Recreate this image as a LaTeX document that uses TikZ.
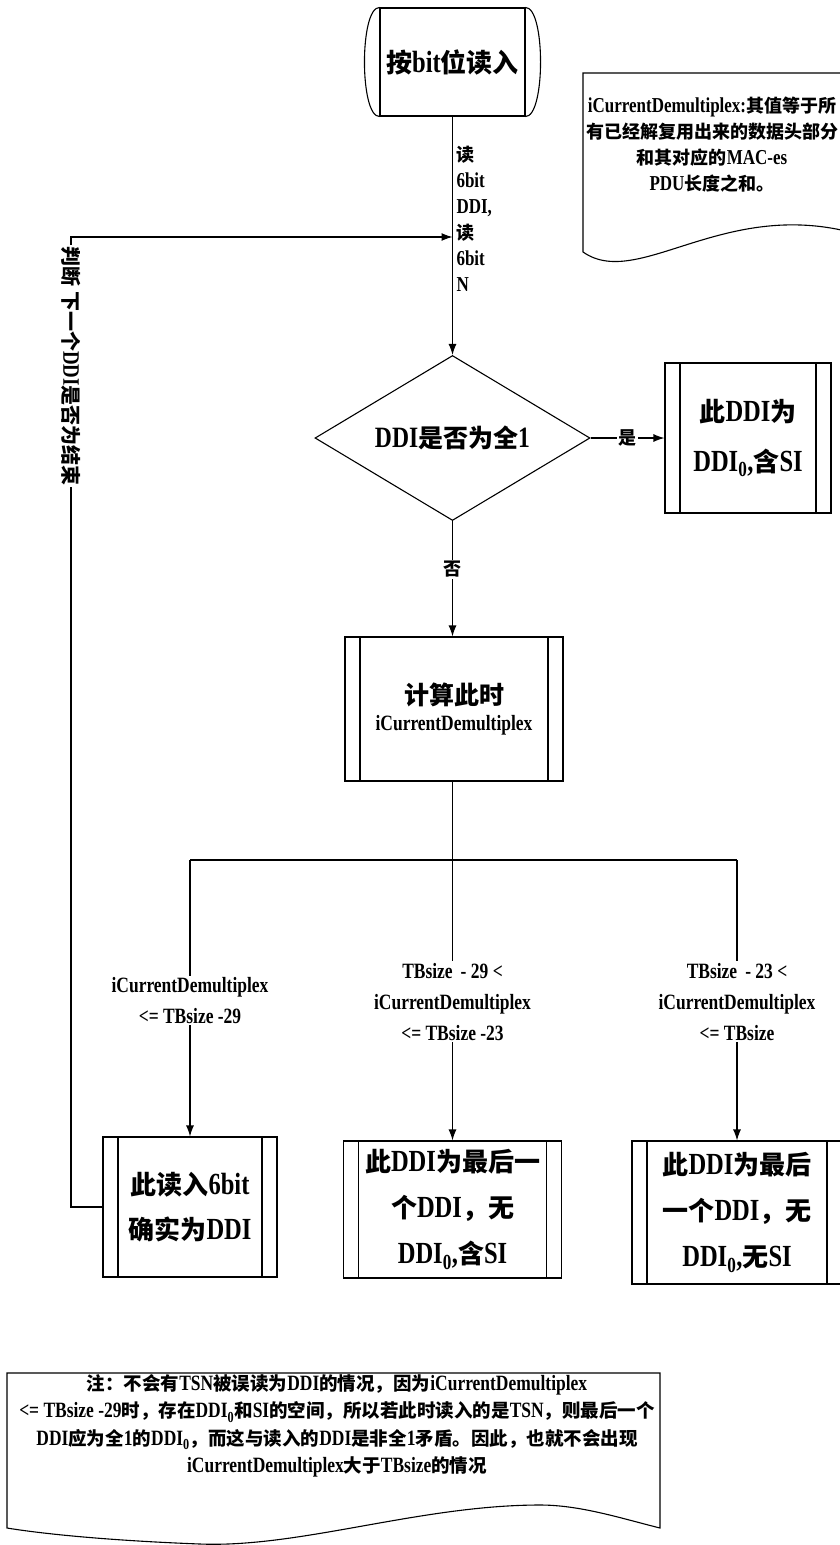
\documentclass[tikz,border=0pt]{standalone}
\usepackage{fontspec}
\setmainfont{Liberation Serif}[Scale=1.18,FakeStretch=0.8]
\newfontfamily\cjkf{Noto Sans CJK SC}
\XeTeXinterchartokenstate=1
\newXeTeXintercharclass\cjkclass
\newcount\cjkcnt
\cjkcnt="3000
\loop
  \XeTeXcharclass\cjkcnt=\cjkclass
  \ifnum\cjkcnt<"9FFF \advance\cjkcnt by 1
\repeat
\cjkcnt="FF00
\loop
  \XeTeXcharclass\cjkcnt=\cjkclass
  \ifnum\cjkcnt<"FFEF \advance\cjkcnt by 1
\repeat
\XeTeXinterchartoks 0 \cjkclass = {\cjkf}
\XeTeXinterchartoks 4095 \cjkclass = {\cjkf}
\XeTeXinterchartoks \cjkclass 0 = {\rmfamily}
\XeTeXinterchartoks \cjkclass 4095 = {\rmfamily}
\usetikzlibrary{shapes.geometric,arrows.meta}
\begin{document}
\begin{tikzpicture}[x=1pt,y=-1pt,line width=1.1pt,
  fsz/.style={font=\fontsize{#1}{#1}\selectfont\bfseries},
  proc/.style={draw,rectangle,inner sep=0pt,align=center,
    path picture={\draw[line width=1.1pt]
      ([xshift=15pt]path picture bounding box.north west) -- ([xshift=15pt]path picture bounding box.south west)
      ([xshift=-15pt]path picture bounding box.north east) -- ([xshift=-15pt]path picture bounding box.south east);}},
  lab/.style={fill=white,inner sep=1.5pt,align=center},
  arr/.style={-{Latex[length=11pt,width=8pt]}}]
\useasboundingbox (0,0) rectangle (840,1545);
\fill[white] (0,0) rectangle (840,1545);

% start terminal
\node[draw,minimum width=145pt,minimum height=108pt,inner sep=0pt,fsz=26] (start) at (452.5,62) {按bit位读入};
\draw (start.north west) .. controls +(-20,0) and +(-20,0) .. (start.south west);
\draw (start.north east) .. controls +(20,0) and +(20,0) .. (start.south east);

% top-right note
\node[align=center,font=\fontsize{18}{26}\selectfont\bfseries] (note1) at (712,145)
  {iCurrentDemultiplex:其值等于所\\有已经解复用出来的数据头部分\\和其对应的MAC-es\\PDU长度之和。};
\draw (870,73) -- (583,73) -- (583,252) .. controls (640,292) and (730,190) .. (870,238);

% decision
\node[diamond,draw,aspect=1.667,minimum width=275pt,minimum height=165pt,inner sep=0pt,fsz=25] (dec) at (452.5,438) {DDI是否为全1};
\draw[arr] (start.south) -- (dec.north);
\node[anchor=north west,align=left,inner sep=0pt,font=\fontsize{18}{26}\selectfont\bfseries] (rdlab) at (456,146)
  {读\\6bit\\DDI,\\读\\6bit\\N};

% yes box
\node[proc,minimum width=166pt,minimum height=150pt,font=\fontsize{26}{50}\selectfont\bfseries] (yes) at (748,438)
  {此DDI为\\DDI\textsubscript{0},含SI};
\draw[arr] (dec.east) -- node[lab,fsz=18] {是} (yes.west);

% compute box
\node[proc,minimum width=218pt,minimum height=144pt] (calc) at (454,709)
  {{\fontsize{25}{30}\selectfont\bfseries 计算此时}\\[8pt]{\fontsize{18.5}{24}\selectfont\bfseries iCurrentDemultiplex}};
\draw[arr] (dec.south) -- node[lab,pos=0.42,fsz=18] {否} (dec.south |- calc.north);

% branching
\coordinate (bM) at (452.5,860);
\coordinate (bL) at (190,860);
\coordinate (bR) at (737,860);
\draw (bM |- calc.south) -- (bM);
\draw (bL) -- (bR);

\node[proc,minimum width=174pt,minimum height=140pt,font=\fontsize{26}{45}\selectfont\bfseries] (b1) at (190,1207)
  {此读入6bit\\确实为DDI};
\node[proc,minimum width=218pt,minimum height=137pt,font=\fontsize{26}{46}\selectfont\bfseries] (b2) at (452.5,1209.5)
  {此DDI为最后一\\个DDI，无\\DDI\textsubscript{0},含SI};
\node[proc,minimum width=210pt,minimum height=143pt,font=\fontsize{26}{46}\selectfont\bfseries] (b3) at (737,1212.5)
  {此DDI为最后\\一个DDI，无\\DDI\textsubscript{0},无SI};

\draw[arr] (bL) -- node[lab,pos=0.509,font=\fontsize{18.5}{31}\selectfont\bfseries] {iCurrentDemultiplex\\<= TBsize -29} (b1.north);
\draw[arr] (bM) -- node[lab,pos=0.505,font=\fontsize{18.5}{31}\selectfont\bfseries] {TBsize \,- 29 <\\iCurrentDemultiplex\\<= TBsize -23} (b2.north);
\draw[arr] (bR) -- node[lab,pos=0.505,font=\fontsize{18.5}{31}\selectfont\bfseries] {TBsize \,- 23 <\\iCurrentDemultiplex\\<= TBsize} (b3.north);

% feedback loop
\coordinate (fbT) at (71,237);
\coordinate (fbE) at (452.5,237);
\draw[arr] (b1.west) -- (b1.west -| fbT) -- (fbT) -- (fbE);
\node[lab,rotate=-90,fsz=20] (fblab) at (71,366) {判断 下一个DDI是否为结束};

% bottom note
\node[align=center,font=\fontsize{18.5}{27.5}\selectfont\bfseries] (note2) at (337,1426)
  {注：不会有TSN被误读为DDI的情况，因为iCurrentDemultiplex\\<= TBsize -29时，存在DDI\textsubscript{0}和SI的空间，所以若此时读入的是TSN，则最后一个\\DDI应为全1的DDI\textsubscript{0}，而这与读入的DDI是非全1矛盾。因此，也就不会出现\\iCurrentDemultiplex大于TBsize的情况};
\draw (7,1373) -- (660,1373) -- (660,1528) .. controls (620,1518) and (580,1505) .. (540,1505)
  .. controls (420,1505) and (300,1548) .. (200,1544) .. controls (120,1541) and (50,1535) .. (7,1528) -- cycle;
\end{tikzpicture}
\end{document}
